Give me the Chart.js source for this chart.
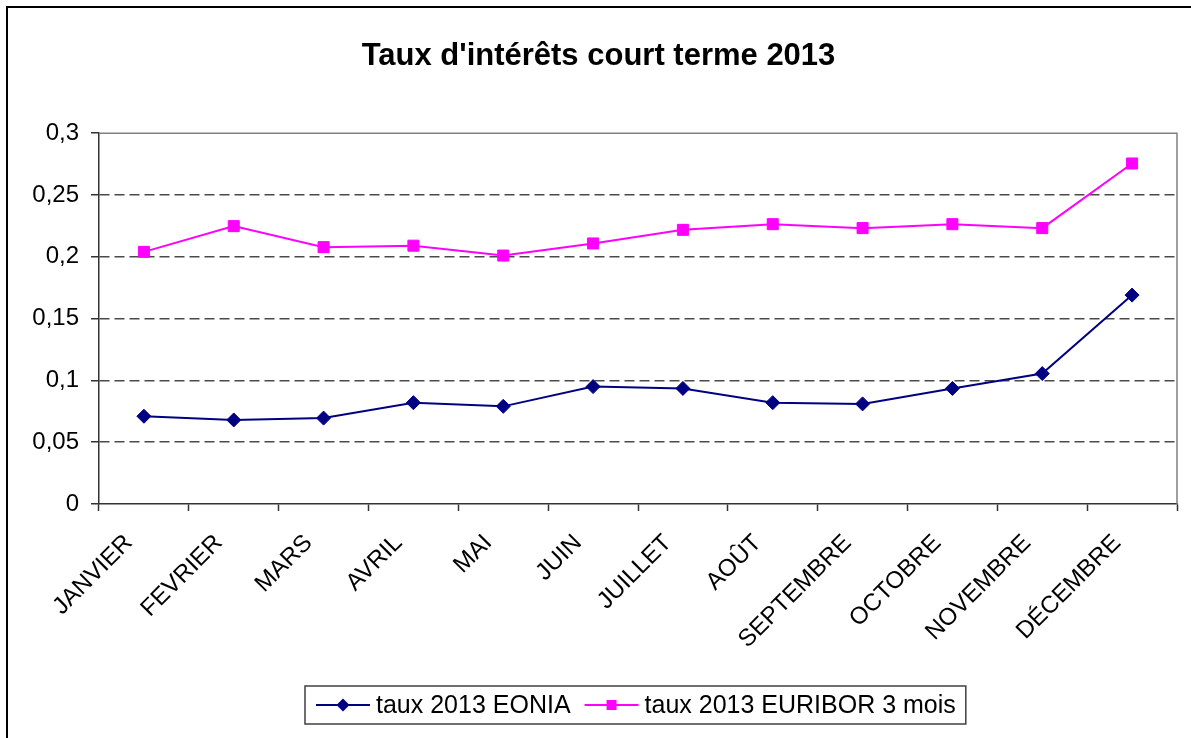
<!DOCTYPE html>
<html lang="fr">
<head>
<meta charset="utf-8">
<title>Taux d'intérêts court terme 2013</title>
<script src="https://cdn.jsdelivr.net/npm/chart.js@4.4.0/dist/chart.umd.min.js"></script>
<style>
  html, body { margin: 0; padding: 0; background: #fff; }
  #wrap { width: 1191px; height: 738px; }
</style>
</head>
<body>
<div id="wrap"><canvas id="rates" width="1191" height="738"></canvas></div>
<script>
// Monthly short-term rates, 2013
const months = ['JANVIER', 'FEVRIER', 'MARS', 'AVRIL', 'MAI', 'JUIN',
                'JUILLET', 'AOÛT', 'SEPTEMBRE', 'OCTOBRE', 'NOVEMBRE', 'DÉCEMBRE'];
const eonia   = [0.071, 0.068, 0.0695, 0.082, 0.079, 0.095, 0.0935, 0.082, 0.081, 0.0935, 0.1055, 0.169];
const euribor = [0.204, 0.2248, 0.2078, 0.209, 0.201, 0.2108, 0.2218, 0.2264, 0.2232, 0.2264, 0.2232, 0.2755];
const seriesNames = ['taux 2013 EONIA', 'taux 2013 EURIBOR 3 mois'];
const yTickValues = [0, 0.05, 0.1, 0.15, 0.2, 0.25, 0.3];
const yTickLabels = ['0', '0,05', '0,1', '0,15', '0,2', '0,25', '0,3'];

const FONT = "'Liberation Sans', Arial, sans-serif";
const NAVY = '#000080';
const MAGENTA = '#FF00FF';

// Outer frame of the whole chart object
const outerFrame = {
    id: 'outerFrame',
    beforeDraw(chart) {
        const ctx = chart.ctx;
        ctx.save();
        ctx.fillStyle = '#fff';
        ctx.fillRect(0, 0, chart.width, chart.height);
        ctx.strokeStyle = '#000';
        ctx.lineWidth = 2;
        ctx.strokeRect(7, 7, chart.width + 20, chart.height + 20);
        ctx.restore();
    }
};

// Grey box around the plot area (top and right edges show)
const plotFrame = {
    id: 'plotFrame',
    beforeDatasetsDraw(chart) {
        const { ctx, chartArea: a } = chart;
        ctx.save();
        ctx.strokeStyle = '#808080';
        ctx.lineWidth = 1.5;
        ctx.beginPath();
        ctx.moveTo(a.left, a.top);
        ctx.lineTo(a.right, a.top);
        ctx.lineTo(a.right, a.bottom);
        ctx.stroke();
        ctx.restore();
    }
};

function drawMarker(ctx, style, x, y, r, color) {
    ctx.fillStyle = color;
    ctx.beginPath();
    if (style === 'rectRot') {
        ctx.moveTo(x, y - r);
        ctx.lineTo(x + r, y);
        ctx.lineTo(x, y + r);
        ctx.lineTo(x - r, y);
        ctx.closePath();
    } else {
        ctx.rect(x - r, y - r, 2 * r, 2 * r);
    }
    ctx.fill();
}

// Boxed legend below the axis: line sample with marker, then the label
const boxedLegend = {
    id: 'boxedLegend',
    afterDraw(chart) {
        const ctx = chart.ctx;
        const left = 305, top = 686, bottom = 724;
        const cy = (top + bottom) / 2;
        ctx.save();
        ctx.font = '25px ' + FONT;
        ctx.textBaseline = 'middle';
        ctx.textAlign = 'left';
        let x = left + 11;
        chart.data.datasets.forEach((ds) => {
            ctx.strokeStyle = ds.borderColor;
            ctx.lineWidth = 2;
            ctx.beginPath();
            ctx.moveTo(x, cy);
            ctx.lineTo(x + 54, cy);
            ctx.stroke();
            drawMarker(ctx, ds.pointStyle, x + 27, cy, ds.pointStyle === 'rect' ? 5 : 6.5, ds.borderColor);
            ctx.fillStyle = '#000';
            ctx.fillText(ds.label, x + 60, cy + 1);
            x += 60 + ctx.measureText(ds.label).width + 14;
        });
        const right = x - 14 + 10;
        ctx.strokeStyle = '#404040';
        ctx.lineWidth = 1.5;
        ctx.strokeRect(left, top, right - left, bottom - top);
        ctx.restore();
    }
};

new Chart(document.getElementById('rates'), {
    type: 'line',
    data: {
        labels: months,
        datasets: [
            {
                label: seriesNames[0],
                data: eonia,
                borderColor: NAVY,
                backgroundColor: NAVY,
                borderWidth: 2,
                pointStyle: 'rectRot',
                pointRadius: 7,
                pointBorderWidth: 1,
                tension: 0
            },
            {
                label: seriesNames[1],
                data: euribor,
                borderColor: MAGENTA,
                backgroundColor: MAGENTA,
                borderWidth: 2,
                pointStyle: 'rect',
                pointRadius: 7.8,
                pointBorderWidth: 1,
                tension: 0
            }
        ]
    },
    options: {
        responsive: false,
        devicePixelRatio: 1,
        animation: false,
        layout: { padding: { left: 20, right: 14, top: 0, bottom: 0 } },
        plugins: {
            legend: { display: false },
            tooltip: { enabled: false },
            title: {
                display: true,
                text: "Taux d'intérêts court terme 2013",
                color: '#000',
                font: { family: FONT, size: 31, weight: 'bold' },
                padding: { top: 38, bottom: 58 }
            }
        },
        scales: {
            x: {
                offset: true,
                grid: {
                    offset: true,
                    drawOnChartArea: false,
                    drawTicks: true,
                    tickLength: 7,
                    tickColor: '#333',
                    tickWidth: 1.5
                },
                border: { color: '#333', width: 1.5 },
                ticks: {
                    autoSkip: false,
                    minRotation: 45,
                    maxRotation: 45,
                    padding: 18,
                    labelOffset: -15,
                    color: '#000',
                    font: { family: FONT, size: 24 }
                },
                afterFit(scale) { scale.height = 234; }
            },
            y: {
                min: 0,
                max: 0.3,
                afterBuildTicks(scale) {
                    scale.ticks = yTickValues.map(v => ({ value: v }));
                },
                grid: {
                    color: ctx => (ctx.tick && (ctx.tick.value === 0 || ctx.tick.value === 0.3)) ? 'rgba(0,0,0,0)' : '#4a4a4a',
                    lineWidth: 1.5,
                    drawTicks: true,
                    tickLength: 8,
                    tickColor: '#333',
                    tickWidth: 1.5,
                    tickBorderDash: []
                },
                border: { color: '#333', width: 1.5, dash: [10, 5] },
                ticks: {
                    padding: 12,
                    color: '#000',
                    font: { family: FONT, size: 24 },
                    callback: (value, index) => yTickLabels[index]
                },
                afterFit(scale) { scale.width = 79; }
            }
        }
    },
    plugins: [outerFrame, plotFrame, boxedLegend]
});
</script>
</body>
</html>
